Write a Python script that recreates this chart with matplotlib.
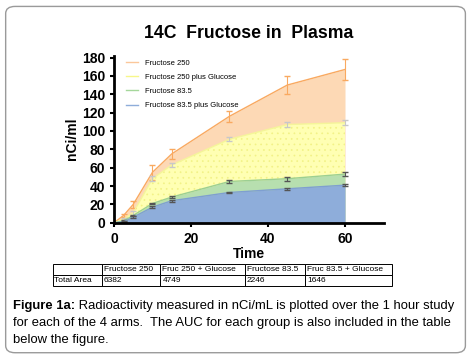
import numpy as np
import matplotlib
matplotlib.use("Agg")
from matplotlib import pyplot as plt
from matplotlib.patches import FancyBboxPatch

plt.rcParams['font.family'] = ['Liberation Sans', 'DejaVu Sans']
plt.rcParams['hatch.linewidth'] = 0.5

# data
t = [0, 2.5, 5, 10, 15, 30, 45, 60]
fru250 = [0, 8, 20, 55, 75, 116, 150, 167]
fru250_err = [0, 2, 4, 8, 5, 6, 10, 11]
fru250_glu = [0, 4, 11, 48, 63, 91, 107, 109]
fru250_glu_err = [0, 1, 2, 3, 2, 2, 3, 3]
fru83 = [0, 2, 8, 21, 28, 45, 48, 53]
fru83_err = [0, 1, 1, 1, 1, 2, 2, 2]
fru83_glu = [0, 1, 6, 17, 24, 33, 37, 41]
fru83_glu_err = [0, 0.5, 1, 1, 1, 1, 1, 1]

names = ['Fructose 250', 'Fructose 250 plus Glucose', 'Fructose 83.5', 'Fructose 83.5 plus Glucose']
tbl_cols = ['', 'Fructose 250', 'Fruc 250 + Glucose', 'Fructose 83.5', 'Fruc 83.5 + Glucose']
tbl_row = ['Total Area', '6382', '4749', '2246', '1646']

fig = plt.figure(figsize=(4.72, 3.57), dpi=100)

# rounded frame
frame = FancyBboxPatch((0.012, 0.012), 0.974, 0.97, boxstyle="round,pad=0,rounding_size=0.02",
                       transform=fig.transFigure, fc='none', ec='#9a9a9a', lw=1.0, zorder=-1)
fig.patches.append(frame)

ax = fig.add_axes([0.2415, 0.376, 0.571, 0.468])
ax.patch.set_alpha(0)

series = [
    (fru250, fru250_err, '#FDD9B5', '#F9A960', '#F9A960', '#FBC79A'),
    (fru250_glu, fru250_glu_err, '#FFFFB3', '#F5F59A', '#C8C8C8', '#F7F78A'),
    (fru83, fru83_err, '#B7DFAF', '#9CCF92', '#555555', '#A5D79B'),
    (fru83_glu, fru83_glu_err, '#8EADDA', '#7F9FD0', '#555555', '#8EADDA'),
]
for i, (y, e, fc, lc, ec, hc) in enumerate(series):
    if i == 1:
        ax.fill_between(t, 0, y, facecolor=fc, edgecolor='#F2F286', hatch='...', lw=0)
    else:
        ax.fill_between(t, 0, y, color=fc, lw=0)
    ax.plot(t, y, color=lc, lw=1.0)
    ax.plot([], [], color=hc, lw=1.0, label=names[i])
    ax.errorbar(t[1:], y[1:], yerr=e[1:], fmt='none', ecolor=ec, elinewidth=0.8, capsize=2.5)

ax.set_xlim(0, 70)
ax.set_ylim(0, 182)
ax.set_xticks([0, 20, 40, 60])
ax.set_yticks(range(0, 181, 20))
for s in ['top', 'right']:
    ax.spines[s].set_visible(False)
for s in ['left', 'bottom']:
    ax.spines[s].set_linewidth(2)
ax.tick_params(width=1.5, length=3, labelsize=10)
for lab in ax.get_xticklabels() + ax.get_yticklabels():
    lab.set_fontweight('bold')
ax.set_xlabel('Time', fontsize=10, fontweight='bold', labelpad=1)
ax.set_ylabel('nCi/ml', fontsize=10, fontweight='bold', labelpad=2)

leg = ax.legend(loc='upper left', bbox_to_anchor=(0.02, 1.02), frameon=False, fontsize=5.5,
                handlelength=1.6, labelspacing=0.9)

fig.text(0.526, 0.905, '14C  Fructose in  Plasma', ha='center', va='center',
         fontsize=12.7, fontweight='bold')

# table
tax = fig.add_axes([0.112, 0.198, 0.718, 0.062])
tax.axis('off')
tb = tax.table(cellText=[tbl_row], colLabels=tbl_cols, cellLoc='left', colLoc='left',
               colWidths=[49, 58, 85, 60, 87], bbox=[0, 0, 1, 1])
tb.auto_set_font_size(False)
tb.set_fontsize(6)
for cell in tb.get_celld().values():
    cell.set_linewidth(0.7)
    cell.PAD = 0.03

# caption with bold lead-in
fs = 9.4
x0, y0 = 0.028, 0.142
lead = fig.text(x0, y0, 'Figure 1a:', ha='left', va='center', fontsize=fs, fontweight='bold')
fig.canvas.draw()
bb = lead.get_window_extent().transformed(fig.transFigure.inverted())
fig.text(bb.x1, y0, ' Radioactivity measured in nCi/mL is plotted over the 1 hour study',
         ha='left', va='center', fontsize=fs)
fig.text(x0, y0 - 0.047, 'for each of the 4 arms.  The AUC for each group is also included in the table',
         ha='left', va='center', fontsize=fs)
fig.text(x0, y0 - 0.094, 'below the figure.', ha='left', va='center', fontsize=fs)

fig.savefig('out.png', dpi=100)
